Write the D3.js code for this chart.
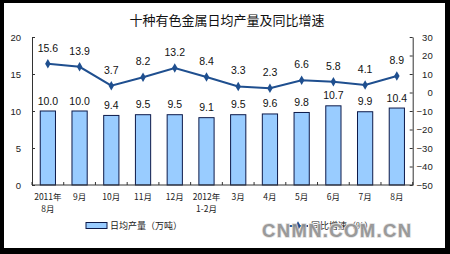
<!DOCTYPE html>
<html>
<head>
<meta charset="utf-8">
<script src="https://cdn.jsdelivr.net/npm/d3@7"></script>
<style>
  html, body { margin: 0; padding: 0; background: #000; }
  svg { display: block; }
</style>
</head>
<body>
<svg id="chart" width="450" height="254"></svg>
<script>
// Monthly categories (two-line labels)
const categories = ["2011年\n8月", "9月", "10月", "11月", "12月", "2012年\n1-2月", "3月", "4月", "5月", "6月", "7月", "8月"];
// Average daily output, 10k tonnes
const dailyOutput = [10.0, 10.0, 9.4, 9.5, 9.5, 9.1, 9.5, 9.6, 9.8, 10.7, 9.9, 10.4];
// Year-on-year growth, %
const yoyGrowth = [15.6, 13.9, 3.7, 8.2, 13.2, 8.4, 3.3, 2.3, 6.6, 5.8, 4.1, 8.9];
// Axis ticks
const leftTicks = [0, 5, 10, 15, 20];
const rightTicks = [-50, -40, -30, -20, -10, 0, 10, 20, 30];

const title = "十种有色金属日均产量及同比增速";
const legendBar = "日均产量（万吨）";
const legendLine = "同比增速（%）";
const watermark = "CNMN.COM.CN";

const svg = d3.select("#chart");
const latin = "'Liberation Sans', Arial, sans-serif";
const cjk = "'Noto Sans CJK SC', 'Liberation Sans', sans-serif";

// Frame
svg.append("rect").attr("x", 0).attr("y", 0).attr("width", 450).attr("height", 254).attr("fill", "#000");
svg.append("rect").attr("x", 4).attr("y", 3).attr("width", 441).attr("height", 245).attr("fill", "#fff");

const plot = { left: 32, right: 412.7, top: 37, bottom: 185 };

const x = d3.scaleBand().domain(categories).range([plot.left, plot.right])
  .paddingInner(0.52).paddingOuter(0.26);
const yL = d3.scaleLinear().domain([0, 20]).range([plot.bottom, plot.top]);
const yR = d3.scaleLinear().domain([-50, 30]).range([plot.bottom, plot.top]);

// Title
svg.append("text").attr("x", 227).attr("y", 25).attr("text-anchor", "middle")
  .attr("font-family", cjk).attr("font-size", 13).attr("fill", "#111").text(title);

// Bars
const barFill = "#99ccff", barStroke = "#0d1a4a";
svg.append("g").selectAll("rect").data(dailyOutput).join("rect")
  .attr("x", (d, i) => x(categories[i]))
  .attr("y", d => yL(d))
  .attr("width", x.bandwidth())
  .attr("height", d => yL(0) - yL(d))
  .attr("fill", barFill).attr("stroke", barStroke).attr("stroke-width", 1);

// Bar value labels
svg.append("g").selectAll("text").data(dailyOutput).join("text")
  .attr("x", (d, i) => x(categories[i]) + x.bandwidth() / 2)
  .attr("y", d => yL(d) - 6.5)
  .attr("text-anchor", "middle").attr("font-family", latin).attr("font-size", 10.5).attr("fill", "#111")
  .text(d => d.toFixed(1));

// Left axis
const axisColor = "#333";
const gL = svg.append("g").attr("transform", `translate(${plot.left},0)`)
  .call(d3.axisLeft(yL).tickValues(leftTicks).tickSizeInner(-3).tickSizeOuter(0).tickPadding(11));
gL.select(".domain").attr("stroke", axisColor);
gL.selectAll(".tick line").attr("stroke", axisColor);
gL.selectAll("text").attr("font-family", latin).attr("font-size", 9.5).attr("fill", "#222");

// Right axis
const gR = svg.append("g").attr("transform", `translate(${plot.right},0)`)
  .call(d3.axisRight(yR).tickValues(rightTicks).tickSizeInner(-3).tickSizeOuter(0).tickPadding(20));
gR.select(".domain").attr("stroke", axisColor);
gR.selectAll(".tick line").attr("stroke", axisColor);
gR.selectAll("text").attr("font-family", latin).attr("font-size", 9.5).attr("fill", "#222")
  .attr("text-anchor", "end");

// Category axis with boundary ticks
const gX = svg.append("g");
gX.append("line").attr("x1", plot.left).attr("x2", plot.right)
  .attr("y1", plot.bottom).attr("y2", plot.bottom).attr("stroke", axisColor);
const step = x.step();
const bounds = d3.range(categories.length + 1).map(i => plot.left + i * step);
gX.selectAll("line.tk").data(bounds).join("line").attr("class", "tk")
  .attr("x1", d => d).attr("x2", d => d)
  .attr("y1", plot.bottom - 3).attr("y2", plot.bottom)
  .attr("stroke", axisColor);
const catLabels = gX.selectAll("text").data(categories).join("text")
  .attr("x", d => x(d) + x.bandwidth() / 2)
  .attr("y", 200)
  .attr("text-anchor", "middle").attr("font-family", cjk).attr("font-size", 8.5).attr("fill", "#222");
catLabels.each(function(d) {
  const parts = d.split("\n");
  const t = d3.select(this);
  parts.forEach((p, k) => {
    t.append("tspan").attr("x", t.attr("x")).attr("dy", k === 0 ? 0 : 12).text(p);
  });
});

// Growth line with diamond markers
const lineColor = "#1f4f8f";
const cx = i => x(categories[i]) + x.bandwidth() / 2;
const line = d3.line().x((d, i) => cx(i)).y(d => yR(d));
svg.append("path").datum(yoyGrowth).attr("d", line)
  .attr("fill", "none").attr("stroke", lineColor).attr("stroke-width", 2);
const diamond = d3.symbol().type(d3.symbolDiamond).size(26);
svg.append("g").selectAll("path").data(yoyGrowth).join("path")
  .attr("transform", (d, i) => `translate(${cx(i)},${yR(d)})`)
  .attr("d", diamond).attr("fill", lineColor);

// Growth value labels
svg.append("g").selectAll("text").data(yoyGrowth).join("text")
  .attr("x", (d, i) => cx(i))
  .attr("y", d => yR(d) - 12)
  .attr("text-anchor", "middle").attr("font-family", latin).attr("font-size", 10.5).attr("fill", "#111")
  .text(d => d.toFixed(1));

// Legend
const lg = svg.append("g");
lg.append("rect").attr("x", 86).attr("y", 222.5).attr("width", 21).attr("height", 6)
  .attr("fill", barFill).attr("stroke", barStroke);
lg.append("text").attr("x", 110).attr("y", 229).attr("font-family", cjk).attr("font-size", 9)
  .attr("fill", "#222").text(legendBar);
lg.append("line").attr("x1", 288).attr("x2", 308).attr("y1", 226).attr("y2", 226)
  .attr("stroke", lineColor).attr("stroke-width", 2);
lg.append("path").attr("transform", "translate(298,226)").attr("d", diamond).attr("fill", lineColor);
lg.append("text").attr("x", 311).attr("y", 229).attr("font-family", cjk).attr("font-size", 9)
  .attr("fill", "#222").text(legendLine);

// Site watermark
svg.append("text").attr("x", 262).attr("y", 237)
  .attr("font-family", latin).attr("font-weight", "bold").attr("font-size", 18.5)
  .attr("textLength", 149).attr("lengthAdjust", "spacing")
  .attr("fill", "#8e8e8e").attr("fill-opacity", 0.9)
  .attr("stroke", "#e0e0e0").attr("stroke-width", 1.5).attr("paint-order", "stroke")
  .text(watermark);
</script>
</body>
</html>
